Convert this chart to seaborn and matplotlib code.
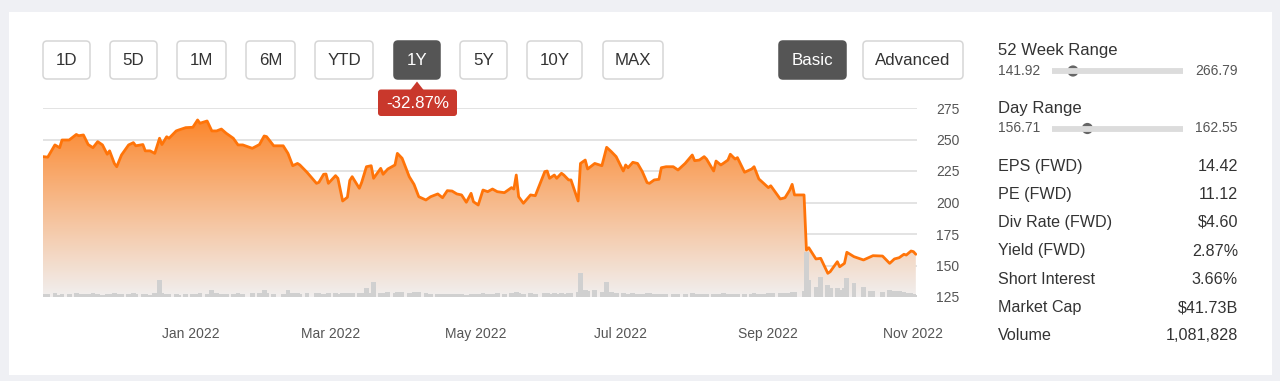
import numpy as np
import pandas as pd
import matplotlib
matplotlib.use("Agg")
import matplotlib.pyplot as plt
import matplotlib.dates as mdates
from matplotlib.patches import FancyBboxPatch, Rectangle, Polygon, PathPatch, Circle
import seaborn as sns

# ---------------- data ----------------
dates = [
    "2021-10-31", "2021-11-02", "2021-11-05", "2021-11-07", "2021-11-08", "2021-11-11", "2021-11-14", "2021-11-15",
    "2021-11-17", "2021-11-19", "2021-11-21", "2021-11-23", "2021-11-25", "2021-11-27", "2021-11-28", "2021-11-30",
    "2021-12-01", "2021-12-03", "2021-12-06", "2021-12-08", "2021-12-09", "2021-12-12", "2021-12-13", "2021-12-15",
    "2021-12-17", "2021-12-19", "2021-12-20", "2021-12-22", "2021-12-23", "2021-12-26", "2021-12-27", "2021-12-30",
    "2022-01-02", "2022-01-04", "2022-01-05", "2022-01-08", "2022-01-10", "2022-01-12", "2022-01-14", "2022-01-16",
    "2022-01-19", "2022-01-21", "2022-01-23", "2022-01-27", "2022-01-30", "2022-02-01", "2022-02-02", "2022-02-05",
    "2022-02-09", "2022-02-11", "2022-02-13", "2022-02-15", "2022-02-16", "2022-02-19", "2022-02-23", "2022-02-24",
    "2022-02-26", "2022-02-27", "2022-02-28", "2022-03-03", "2022-03-04", "2022-03-06", "2022-03-08", "2022-03-09",
    "2022-03-10", "2022-03-13", "2022-03-14", "2022-03-16", "2022-03-18", "2022-03-19", "2022-03-22", "2022-03-23",
    "2022-03-25", "2022-03-28", "2022-03-29", "2022-03-31", "2022-04-03", "2022-04-05", "2022-04-07", "2022-04-10",
    "2022-04-12", "2022-04-15", "2022-04-17", "2022-04-19", "2022-04-21", "2022-04-23", "2022-04-25", "2022-04-27",
    "2022-04-29", "2022-04-30", "2022-05-02", "2022-05-04", "2022-05-06", "2022-05-08", "2022-05-10", "2022-05-13",
    "2022-05-16", "2022-05-17", "2022-05-18", "2022-05-19", "2022-05-21", "2022-05-24", "2022-05-26", "2022-05-30",
    "2022-05-31", "2022-06-01", "2022-06-03", "2022-06-04", "2022-06-06", "2022-06-07", "2022-06-09", "2022-06-10",
    "2022-06-13", "2022-06-14", "2022-06-16", "2022-06-17", "2022-06-20", "2022-06-23", "2022-06-25", "2022-06-27",
    "2022-06-29", "2022-07-02", "2022-07-03", "2022-07-04", "2022-07-06", "2022-07-08", "2022-07-10", "2022-07-12",
    "2022-07-13", "2022-07-15", "2022-07-17", "2022-07-18", "2022-07-20", "2022-07-23", "2022-07-25", "2022-07-28",
    "2022-07-31", "2022-08-01", "2022-08-03", "2022-08-05", "2022-08-06", "2022-08-09", "2022-08-10", "2022-08-12",
    "2022-08-13", "2022-08-15", "2022-08-16", "2022-08-18", "2022-08-19", "2022-08-22", "2022-08-25", "2022-08-26",
    "2022-08-28", "2022-08-30", "2022-09-01", "2022-09-02", "2022-09-03", "2022-09-06", "2022-09-08", "2022-09-10",
    "2022-09-11", "2022-09-12", "2022-09-16", "2022-09-17", "2022-09-18", "2022-09-21", "2022-09-23", "2022-09-26",
    "2022-09-27", "2022-09-30", "2022-10-01", "2022-10-03", "2022-10-04", "2022-10-07", "2022-10-11", "2022-10-14",
    "2022-10-15", "2022-10-19", "2022-10-22", "2022-10-24", "2022-10-26", "2022-10-28", "2022-10-29", "2022-10-31",
    "2022-11-01", "2022-11-02",
]

prices = [
    236.4, 236.0, 245.7, 243.5, 249.6, 249.6, 254.0, 253.0, 253.6, 246.0,
    243.5, 248.3, 245.7, 238.3, 241.0, 231.0, 228.4, 237.7, 245.7, 247.5,
    245.0, 246.0, 241.0, 241.0, 239.0, 251.0, 246.0, 252.2, 251.0, 256.8,
    257.5, 259.4, 259.7, 265.5, 262.9, 264.7, 256.8, 256.8, 258.3, 255.0,
    251.0, 245.7, 245.7, 243.0, 246.0, 252.8, 252.3, 245.0, 245.0, 239.0,
    229.2, 231.0, 229.8, 224.0, 215.2, 216.0, 222.4, 222.6, 215.2, 221.3,
    219.2, 201.2, 204.2, 217.5, 220.5, 211.3, 216.0, 228.4, 229.2, 219.2,
    227.1, 222.4, 226.6, 229.8, 239.0, 235.1, 220.5, 214.4, 204.6, 202.0,
    204.6, 206.8, 203.8, 209.4, 209.1, 206.8, 206.0, 200.2, 207.3, 200.6,
    198.0, 209.9, 208.6, 210.7, 208.6, 207.8, 211.8, 210.7, 221.8, 204.6,
    199.4, 206.0, 205.4, 224.5, 225.0, 219.2, 221.8, 219.2, 223.2, 221.8,
    217.9, 217.9, 201.2, 231.0, 233.7, 226.6, 231.0, 229.2, 243.8, 240.3,
    236.4, 225.0, 229.8, 227.6, 231.9, 231.0, 224.5, 215.8, 215.2, 217.9,
    218.4, 227.6, 228.4, 228.4, 225.8, 231.0, 237.7, 233.2, 233.7, 236.4,
    234.5, 225.0, 232.9, 229.8, 231.0, 233.7, 238.3, 234.5, 235.6, 224.0,
    226.6, 228.4, 218.7, 215.2, 211.8, 213.3, 210.7, 202.8, 203.8, 209.9,
    214.4, 206.0, 206.0, 162.3, 164.1, 155.2, 155.7, 143.8, 145.1, 153.0,
    149.0, 151.7, 160.5, 157.0, 154.4, 157.0, 157.8, 157.5, 151.7, 155.2,
    156.2, 158.9, 158.3, 161.5, 161.0, 158.9,
]

volumes = [
    0.9, 1.0, 1.2, 0.8, 1.1, 1.0, 1.3, 0.9, 1.1, 1.0,
    1.2, 0.9, 0.8, 1.1, 1.0, 1.3, 1.1, 0.9, 1.0, 1.2,
    0.9, 1.1, 1.0, 0.8, 1.2, 5.7, 1.4, 1.1, 0.9, 1.0,
    0.8, 1.0, 0.9, 1.1, 1.2, 1.0, 2.3, 1.3, 1.1, 0.9,
    1.0, 1.2, 1.1, 1.3, 1.4, 2.3, 1.2, 1.0, 1.1, 2.3,
    1.5, 1.2, 1.1, 1.3, 1.4, 1.2, 1.0, 1.1, 1.3, 1.2,
    1.0, 1.5, 1.3, 1.1, 1.2, 1.4, 1.3, 3.0, 1.5, 5.0,
    1.4, 1.2, 1.7, 1.3, 1.8, 1.7, 1.5, 1.7, 1.6, 1.2,
    1.1, 1.0, 0.9, 1.0, 1.1, 0.9, 1.0, 0.8, 0.9, 1.0,
    1.1, 1.2, 1.0, 1.1, 1.2, 1.0, 1.3, 1.1, 1.7, 1.2,
    1.0, 1.2, 1.1, 1.3, 1.2, 1.0, 1.4, 1.1, 1.2, 1.0,
    1.3, 1.2, 1.6, 8.0, 2.3, 2.0, 2.3, 1.7, 5.0, 1.6,
    1.4, 1.2, 1.1, 1.0, 1.2, 1.1, 1.0, 1.3, 1.2, 1.1,
    1.0, 1.1, 1.0, 0.9, 1.0, 1.1, 1.2, 1.0, 1.1, 1.0,
    0.9, 1.1, 1.0, 1.1, 1.2, 1.0, 1.1, 0.9, 1.0, 1.1,
    1.0, 1.2, 1.1, 1.0, 1.3, 1.1, 1.2, 1.4, 1.3, 1.5,
    1.6, 1.8, 2.0, 15.0, 5.7, 3.3, 6.7, 4.0, 3.0, 3.0,
    2.5, 3.0, 6.3, 4.7, 3.3, 2.0, 2.0, 1.7, 2.3, 2.0,
    2.0, 1.7, 1.5, 1.3, 1.0, 0.8,
]

y_ticks = [125, 150, 175, 200, 225, 250, 275]
x_tick_dates = ["2022-01-01", "2022-03-01", "2022-05-01", "2022-07-01", "2022-09-01", "2022-11-01"]
x_tick_labels = ["Jan 2022", "Mar 2022", "May 2022", "Jul 2022", "Sep 2022", "Nov 2022"]

range_buttons = ["1D", "5D", "1M", "6M", "YTD", "1Y", "5Y", "10Y", "MAX"]
active_range = "1Y"
mode_buttons = ["Basic", "Advanced"]
active_mode = "Basic"
change_label = "-32.87%"

week52_low, week52_high = "141.92", "266.79"
day_low, day_high = "156.71", "162.55"
stat_labels = ["EPS (FWD)", "PE (FWD)", "Div Rate (FWD)", "Yield (FWD)", "Short Interest", "Market Cap", "Volume"]
stat_values = ["14.42", "11.12", "$4.60", "2.87%", "3.66%", "$41.73B", "1,081,828"]

# ---------------- style ----------------
sns.set_style("white")
plt.rcParams["font.family"] = ["Liberation Sans", "DejaVu Sans"]

W, H = 1280, 381
fig = plt.figure(figsize=(12.8, 3.81), dpi=100, facecolor="#eff0f4")


def frac(x0, y0, x1, y1):
    return [x0 / W, 1 - y1 / H, (x1 - x0) / W, (y1 - y0) / H]


# card background
bg = fig.add_axes([0, 0, 1, 1], zorder=0)
bg.set_xlim(0, W)
bg.set_ylim(H, 0)
bg.axis("off")
bg.add_patch(Rectangle((9, 12), 1263, 363, facecolor="white", edgecolor="none"))

# ---------------- chart ----------------
df = pd.DataFrame({"date": pd.to_datetime(dates), "price": prices, "volume": volumes})
xmin = pd.Timestamp("2021-10-31")
xmax = pd.Timestamp("2022-11-02 12:00")

ax = fig.add_axes(frac(43, 108, 917, 297), zorder=1)
ax.patch.set_visible(False)

sns.lineplot(data=df, x="date", y="price", ax=ax, color="#ff7409", linewidth=2.0,
             zorder=4, solid_joinstyle="round")

xnum = mdates.date2num(df["date"])
fill = ax.fill_between(xnum, df["price"], y_ticks[0], facecolor="none", edgecolor="none")
t = np.linspace(0, 1, 256)[:, None]
top_c = np.array([253, 124, 24]) / 255.0
bot_c = np.array([241, 239, 239]) / 255.0
tt = t ** 0.9
img = (1 - tt)[:, :, None] * top_c + tt[:, :, None] * bot_c
im = ax.imshow(img, extent=[mdates.date2num(xmin), mdates.date2num(xmax), y_ticks[0], y_ticks[-1]],
               aspect="auto", origin="upper", zorder=1, interpolation="bilinear")
clip = PathPatch(fill.get_paths()[0], transform=ax.transData, facecolor="none", edgecolor="none")
ax.add_patch(clip)
im.set_clip_path(clip)

# volume bars on a twin axis (created before y-axis styling, since twinx moves ticks)
ax2 = ax.twinx()
ax2.set_zorder(2)
ax2.patch.set_visible(False)
ax2.bar(df["date"], df["volume"], width=2.0, color="#d0d0d0", edgecolor="none", zorder=2)
ax2.set_ylim(0, 63)
ax2.set_yticks([])
ax2.tick_params(axis="y", right=False, labelright=False, left=False, labelleft=False)
for s in ax2.spines.values():
    s.set_visible(False)

ax.set_xlim(xmin, xmax)
ax.set_ylim(y_ticks[0], y_ticks[-1])
ax.set_yticks(y_ticks)
ax.set_axisbelow(True)
ax.grid(axis="y", color="#dedede", linewidth=1.2)
ax.grid(axis="x", visible=False)
ax.yaxis.tick_right()
ax.yaxis.set_label_position("right")
ax.tick_params(axis="y", left=False, labelleft=False, right=False, labelright=True,
               length=0, pad=14, labelsize=10, labelcolor="#555555")
ax.set_xticks(pd.to_datetime(x_tick_dates))
ax.set_xticklabels(x_tick_labels)
ax.tick_params(axis="x", length=10, width=1, color="#d3d3d3", pad=11.5, labelsize=10, labelcolor="#555555")
ax.set_xlabel("")
ax.set_ylabel("")
for s in ax.spines.values():
    s.set_visible(False)

# ---------------- UI overlay ----------------
ui = fig.add_axes([0, 0, 1, 1], zorder=5)
ui.set_xlim(0, W)
ui.set_ylim(H, 0)
ui.axis("off")
ui.patch.set_visible(False)


def button(x0, x1, label, active):
    fc = "#555555" if active else "white"
    ec = "#555555" if active else "#d6d6d6"
    ui.add_patch(FancyBboxPatch((x0, 41), x1 - x0, 38, boxstyle="round,pad=0,rounding_size=4",
                                facecolor=fc, edgecolor=ec, linewidth=1.1))
    ui.text((x0 + x1) / 2, 60.5, label, ha="center", va="center", fontsize=12.2,
            color="white" if active else "#333333")


range_pos = [(43, 90), (110, 157), (177, 226), (246, 295), (315, 373), (394, 440),
             (460, 507), (527, 582), (603, 663)]
for (a, b), lab in zip(range_pos, range_buttons):
    button(a, b, lab, lab == active_range)
mode_pos = [(779, 846), (863, 963)]
for (a, b), lab in zip(mode_pos, mode_buttons):
    button(a, b, lab, lab == active_mode)

# change tooltip
red = "#c9382c"
ui.add_patch(FancyBboxPatch((378, 89.5), 79, 26.5, boxstyle="round,pad=0,rounding_size=3",
                            facecolor=red, edgecolor="none"))
ui.add_patch(Polygon([(410, 90.5), (424, 90.5), (417, 81.5)], closed=True, facecolor=red, edgecolor="none"))
ui.text(417.5, 103, change_label, ha="center", va="center", fontsize=12.2, color="white")

# right panel
txt = "#333333"
sub = "#555555"


def range_block(title, lo, hi, y_title, y_bar, knob_frac):
    ui.text(998, y_title, title, ha="left", va="center", fontsize=12, color=txt)
    ui.text(998, y_bar, lo, ha="left", va="center", fontsize=10, color=sub)
    ui.text(1238, y_bar, hi, ha="right", va="center", fontsize=10, color=sub)
    ui.plot([1052, 1183], [y_bar, y_bar], color="#dcdcdc", linewidth=4.2, solid_capstyle="butt")
    ui.add_patch(Circle((1052 + knob_frac * 131, y_bar), 5.6, facecolor="#666666", edgecolor="none"))


range_block("52 Week Range", week52_low, week52_high, 50, 71, 0.16)
range_block("Day Range", day_low, day_high, 108, 128.5, 0.27)

row_y = [166.5, 194.5, 222.5, 251, 279, 307.5, 336]
for y, lab, val in zip(row_y, stat_labels, stat_values):
    ui.text(998, y, lab, ha="left", va="center", fontsize=11.6, color=txt)
    ui.text(1238, y, val, ha="right", va="center", fontsize=11.6, color=txt)

fig.savefig("out.png", dpi=100, facecolor=fig.get_facecolor())
